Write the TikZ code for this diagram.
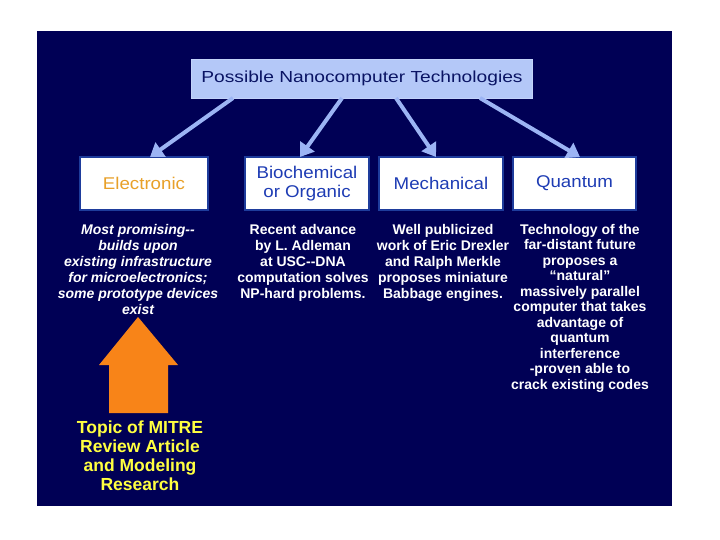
\documentclass[tikz,border=0pt]{standalone}
\usepackage{fontspec}
\setmainfont{Liberation Sans}
\newfontfamily\widefont[FakeStretch=1.2]{Liberation Sans}
\newfontfamily\labelfont[FakeStretch=1.1]{Liberation Sans}
\usetikzlibrary{arrows.meta}
\definecolor{navybg}{HTML}{000055}
\definecolor{lightblue}{HTML}{B4C8F8}
\definecolor{arrowblue}{HTML}{9CB4F4}
\definecolor{boxblue}{HTML}{1E3C9C}
\definecolor{labelblue}{HTML}{1E3CB4}
\definecolor{eorange}{HTML}{E8A028}
\definecolor{bigorange}{HTML}{F88418}
\definecolor{topicyellow}{HTML}{FFFF40}
\definecolor{titletext}{HTML}{0A1464}
\tikzset{
  x=1pt, y=-1pt,
  catbox/.style={draw=boxblue, line width=1.5pt, fill=white, minimum height=53pt, inner sep=0pt, align=center, font=\labelfont\fontsize{17}{19}\selectfont, text=labelblue,
    append after command={\pgfextra{\draw[boxblue,line width=0.8pt] ([xshift=3pt,yshift=-3pt]\tikzlastnode.north west) rectangle ([xshift=-3pt,yshift=3pt]\tikzlastnode.south east);}}},
  desc/.style={text=white, align=center, font=\fontsize{14}{16}\selectfont\bfseries, inner sep=0pt, anchor=north},
  conn/.style={draw=arrowblue, line width=4pt, -{Triangle[length=13pt,width=17pt]}},
}
\begin{document}
\begin{tikzpicture}
\useasboundingbox (0,0) rectangle (720,540);
\fill[white] (0,0) rectangle (720,540);
\fill[navybg] (37,31) rectangle (672,506);

\node[fill=lightblue, draw=lightblue!80!white, minimum width=341pt, minimum height=39pt, inner sep=0pt, font=\widefont\fontsize{16}{18}\selectfont, text=titletext] (top) at (362,78.5) {Possible Nanocomputer Technologies};

\node[catbox, minimum width=128pt, text=eorange] (elec) at (144,183.5) {Electronic};
\node[catbox, minimum width=124pt] (bio) at (307,183.5) {Biochemical\\or Organic};
\node[catbox, minimum width=124pt] (mech) at (441,183.5) {Mechanical};
\node[catbox, minimum width=123pt] (quant) at (574.5,183.5) {Quantum};

\coordinate (s1) at (233,98);
\coordinate (s2) at (342,98);
\coordinate (s3) at (396,98);
\coordinate (s4) at (480,98);
\coordinate (e1) at (150,157);
\coordinate (e2) at (300,157);
\coordinate (e3) at (436,157);
\coordinate (e4) at (580,157);
\draw[conn] (s1) -- (e1);
\draw[conn] (s2) -- (e2);
\draw[conn] (s3) -- (e3);
\draw[conn] (s4) -- (e4);

\node[desc, font=\fontsize{14}{16}\selectfont\bfseries\itshape] (delec) at (138,224) {Most promising-{}-\\builds upon\\existing infrastructure\\for microelectronics;\\some prototype devices\\exist};
\node[desc] (dbio) at (303,224) {Recent advance\\by L. Adleman\\at USC-{}-DNA\\computation solves\\NP-hard problems.};
\node[desc] (dmech) at (443,224) {Well publicized\\work of Eric Drexler\\and Ralph Merkle\\proposes miniature\\Babbage engines.};
\node[desc, font=\fontsize{14}{15.5}\selectfont\bfseries] (dquant) at (580,224) {Technology of the\\far-distant future\\proposes a\\``natural''\\massively parallel\\computer that takes\\advantage of\\quantum\\interference\\-proven able to\\crack existing codes};

\fill[bigorange] (109,413) -- (109,365) -- (99,365) -- (138,317) -- (178,365) -- (168,365) -- (168,413) -- cycle;
\node[text=topicyellow, align=center, font=\fontsize{17.5}{19}\selectfont\bfseries, anchor=north, inner sep=0pt] (topic) at (140,421) {Topic of MITRE\\Review Article\\and Modeling\\Research};
\end{tikzpicture}
\end{document}
